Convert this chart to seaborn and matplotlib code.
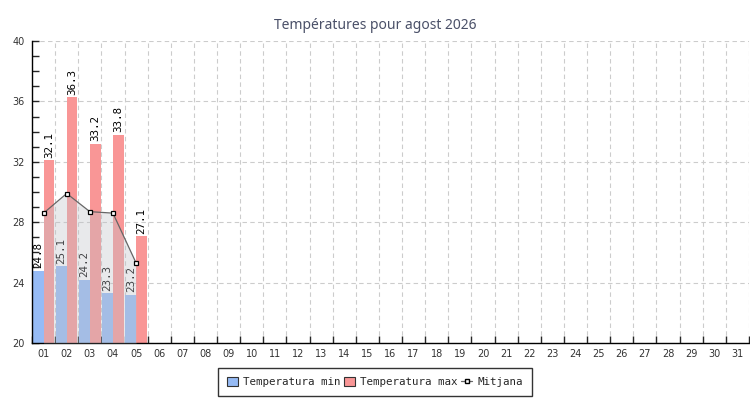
"""
Temperatures d'agost 2026: barres min/max per dia i la mitjana com a àrea
"""
import matplotlib
matplotlib.use("Agg")
import matplotlib.pyplot as plt
import seaborn as sns
import pandas as pd
import numpy as np
from matplotlib.ticker import MultipleLocator, FixedLocator
from matplotlib.patches import Patch
from matplotlib.lines import Line2D

# dades llegides del gràfic
dies = [f"{d:02d}" for d in range(1, 32)]
dies_amb_dades = ["01", "02", "03", "04", "05"]
temp_min = [24.8, 25.1, 24.2, 23.3, 23.2]
temp_max = [32.1, 36.3, 33.2, 33.8, 27.1]
mitjana = [28.6, 29.9, 28.7, 28.6, 25.3]

titol = "Températures pour agost 2026"
color_min = "#96bbf5"
color_max = "#f99696"

sns.set_style("white")
plt.rcParams["font.family"] = ["DejaVu Sans"]

taula = pd.DataFrame({
    "dia": dies_amb_dades * 2,
    "temp": temp_min + temp_max,
    "serie": ["Temperatura min"] * len(temp_min) + ["Temperatura max"] * len(temp_max),
})

fig = plt.figure(figsize=(7.5, 4), dpi=100)
ax = fig.add_axes([32 / 750, 57 / 400, 717 / 750, 302 / 400])

sns.barplot(data=taula, x="dia", y="temp", hue="serie", order=dies,
            hue_order=["Temperatura min", "Temperatura max"],
            palette=[color_min, color_max], width=0.93, saturation=1,
            dodge=True, legend=False, ax=ax, zorder=2, linewidth=0)

# etiquetes de valor, verticals, sobre cada barra
for cont in ax.containers:
    for barra in cont:
        h = barra.get_height()
        if np.isnan(h):
            continue
        ax.text(barra.get_x() + barra.get_width() / 2, h + 0.15, f"{h:.1f}",
                rotation=90, ha="center", va="bottom", fontsize=7.8,
                family="DejaVu Sans Mono", color="black", zorder=3)

# mitjana com a línia amb àrea ombrejada
xs = [dies.index(d) for d in dies_amb_dades]
ax.fill_between(xs, mitjana, 20, color="#bfc2c8", alpha=0.35, lw=0, zorder=4)
ax.plot(xs, mitjana, color="#666666", lw=0.9, marker="s", markersize=3.3,
        markerfacecolor="white", markeredgecolor="black", markeredgewidth=0.9, zorder=5)

ax.set_xlim(-0.5, 30.5)
ax.set_ylim(20, 40)
ax.yaxis.set_major_locator(MultipleLocator(4))
ax.yaxis.set_minor_locator(MultipleLocator(1))
ax.xaxis.set_minor_locator(FixedLocator(np.arange(-0.5, 31, 1)))
ax.grid(True, which="major", axis="y", color="#cccccc", ls=(0, (4, 3)), lw=0.8, zorder=0)
ax.grid(True, which="minor", axis="x", color="#cccccc", ls=(0, (4, 3)), lw=0.8, zorder=0)
ax.set_axisbelow(True)

ax.tick_params(axis="y", which="major", direction="in", length=5, width=1,
               labelsize=7, labelcolor="#333333", pad=5, left=True)
ax.tick_params(axis="y", which="minor", direction="in", length=5, width=1, left=True)
ax.tick_params(axis="x", which="major", length=0, labelsize=7, labelcolor="#333333", pad=4)
ax.tick_params(axis="x", which="minor", direction="in", length=5, width=1, bottom=True)

for lloc in ["top", "right"]:
    ax.spines[lloc].set_visible(False)
for lloc in ["left", "bottom"]:
    ax.spines[lloc].set_color("black")
    ax.spines[lloc].set_linewidth(1)

ax.set_xlabel("")
ax.set_ylabel("")
fig.suptitle(titol, y=0.955, fontsize=10, color="#4a5068", family="Noto Sans")

handles = [
    Patch(facecolor=color_min, edgecolor="#333333", lw=0.8),
    Patch(facecolor=color_max, edgecolor="#333333", lw=0.8),
    Line2D([], [], color="#666666", lw=0.9, marker="s", markersize=3.3,
           markerfacecolor="white", markeredgecolor="black"),
]
leg = fig.legend(handles, ["Temperatura min", "Temperatura max", "Mitjana"],
                 loc="center", bbox_to_anchor=(0.5, 0.045), ncol=3, frameon=True,
                 fancybox=False, edgecolor="black",
                 prop={"family": "DejaVu Sans Mono", "size": 7.8},
                 handlelength=1.0, handleheight=1.0, handletextpad=0.5,
                 columnspacing=0.3, borderpad=0.85)
leg.get_frame().set_linewidth(1)

fig.savefig("out.png", dpi=100)
